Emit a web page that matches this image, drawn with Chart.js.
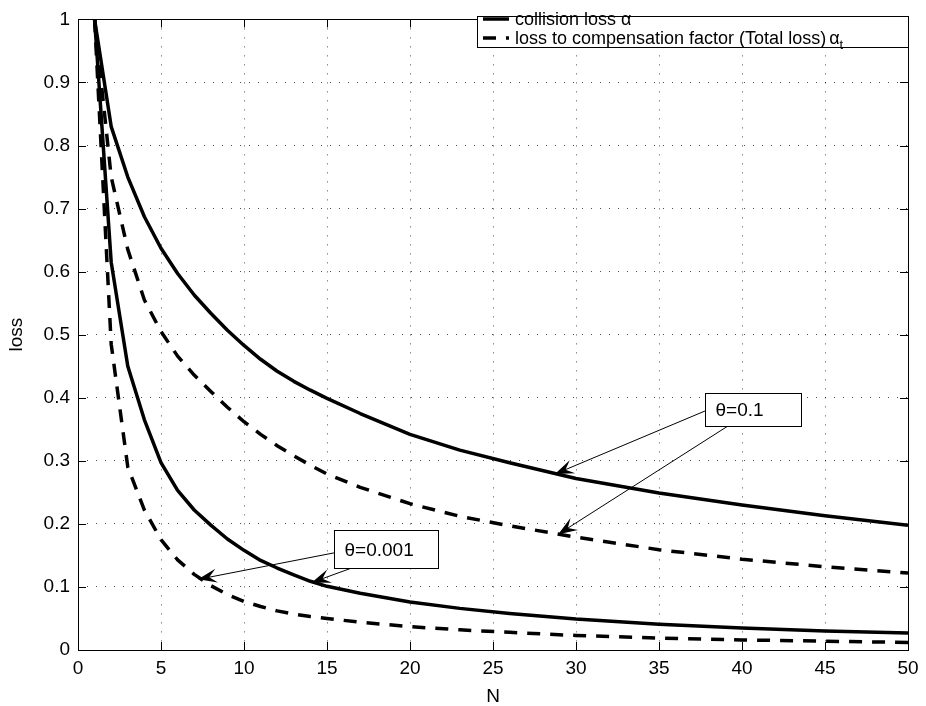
<!DOCTYPE html>
<html>
<head>
<meta charset="utf-8">
<script src="https://cdn.jsdelivr.net/npm/chart.js@4/dist/chart.umd.min.js"></script>
<style>
  html, body { margin: 0; padding: 0; background: #fff; }
</style>
</head>
<body>
<canvas id="lossChart" width="926" height="706"></canvas>
<script>
// values
const nValues = [1, 2, 3, 4, 5, 6, 7, 8, 9, 10, 11, 12, 13, 14, 15, 17, 20, 23, 26, 30, 35, 40, 45, 50];

// theta = 0.1
const collisionHigh = [1, 0.83, 0.75, 0.687, 0.637, 0.597, 0.563, 0.534, 0.507, 0.483, 0.461, 0.442, 0.426, 0.412, 0.399, 0.375, 0.342, 0.317, 0.297, 0.272, 0.249, 0.23, 0.213, 0.198];
const totalHigh = [1, 0.75, 0.635, 0.555, 0.505, 0.466, 0.436, 0.41, 0.385, 0.362, 0.342, 0.324, 0.308, 0.293, 0.279, 0.258, 0.232, 0.212, 0.197, 0.179, 0.159, 0.144, 0.132, 0.122];

// theta = 0.001
const collisionLow = [1, 0.615, 0.45, 0.365, 0.297, 0.253, 0.222, 0.198, 0.176, 0.158, 0.142, 0.13, 0.119, 0.109, 0.101, 0.09, 0.076, 0.066, 0.058, 0.049, 0.041, 0.035, 0.03, 0.027];
const totalLow = [1, 0.485, 0.29, 0.222, 0.175, 0.143, 0.12, 0.102, 0.088, 0.077, 0.069, 0.062, 0.057, 0.053, 0.05, 0.044, 0.037, 0.032, 0.028, 0.023, 0.019, 0.016, 0.014, 0.012];

const xTicksStep = 5;
const yTicksStep = 0.1;

const FONT = "'Liberation Sans', Arial, Helvetica, sans-serif";

function toPoints(ys) {
    return nValues.map((n, i) => ({ x: n, y: ys[i] }));
}

function lineSet(label, ys, dashed) {
    return {
        label: label,
        data: toPoints(ys),
        borderColor: '#000',
        borderWidth: 3.5,
        borderDash: dashed ? [13, 10] : [],
        borderJoinStyle: 'round',
        pointRadius: 0,
        tension: 0,
        fill: false
    };
}

// text boxes + arrows (data coordinates)
const notes = [
    {
        text: '\u03b8=0.1',
        box: [37.77, 0.407, 43.53, 0.356],
        arrows: [
            [37.77, 0.379, 28.73, 0.279],
            [39.2, 0.356, 28.93, 0.1836]
        ]
    },
    {
        text: '\u03b8=0.001',
        box: [15.42, 0.191, 21.69, 0.130],
        arrows: [
            [15.42, 0.154, 7.23, 0.112],
            [16.49, 0.130, 14.08, 0.107]
        ]
    }
];

function drawArrow(ctx, x1, y1, x2, y2) {
    ctx.save();
    ctx.strokeStyle = '#000';
    ctx.fillStyle = '#000';
    ctx.lineWidth = 1;
    const dx = x2 - x1, dy = y2 - y1;
    const len = Math.sqrt(dx * dx + dy * dy);
    const ux = dx / len, uy = dy / len;
    const nx = -uy, ny = ux;
    const L = 19, W = 7;
    ctx.beginPath();
    ctx.moveTo(x1, y1);
    ctx.lineTo(x2 - ux * L * 0.5, y2 - uy * L * 0.5);
    ctx.stroke();
    ctx.beginPath();
    ctx.moveTo(x2, y2);
    ctx.lineTo(x2 - ux * L + nx * W, y2 - uy * L + ny * W);
    ctx.lineTo(x2 - ux * L * 0.6, y2 - uy * L * 0.6);
    ctx.lineTo(x2 - ux * L - nx * W, y2 - uy * L - ny * W);
    ctx.closePath();
    ctx.fill();
    ctx.restore();
}

const matlabFrame = {
    id: 'matlabFrame',
    afterDraw(chart) {
        const ctx = chart.ctx;
        const area = chart.chartArea;
        const xs = chart.scales.x, ys = chart.scales.y;
        const tickLen = 8;

        ctx.save();
        // axes box
        ctx.strokeStyle = '#000';
        ctx.lineWidth = 1;
        ctx.strokeRect(Math.round(area.left) + 0.5, Math.round(area.top) + 0.5,
            Math.round(area.right - area.left), Math.round(area.bottom - area.top));

        // inward tick marks on all four sides
        ctx.beginPath();
        xs.ticks.forEach(t => {
            const px = Math.round(xs.getPixelForValue(t.value)) + 0.5;
            ctx.moveTo(px, area.bottom);
            ctx.lineTo(px, area.bottom - tickLen);
            ctx.moveTo(px, area.top);
            ctx.lineTo(px, area.top + tickLen);
        });
        ys.ticks.forEach(t => {
            const py = Math.round(ys.getPixelForValue(t.value)) + 0.5;
            ctx.moveTo(area.left, py);
            ctx.lineTo(area.left + tickLen, py);
            ctx.moveTo(area.right, py);
            ctx.lineTo(area.right - tickLen, py);
        });
        ctx.stroke();

        // annotations
        notes.forEach(note => {
            note.arrows.forEach(a => {
                drawArrow(ctx, xs.getPixelForValue(a[0]), ys.getPixelForValue(a[1]),
                    xs.getPixelForValue(a[2]), ys.getPixelForValue(a[3]));
            });
            const bx1 = Math.round(xs.getPixelForValue(note.box[0])) + 0.5;
            const by1 = Math.round(ys.getPixelForValue(note.box[1])) + 0.5;
            const bx2 = Math.round(xs.getPixelForValue(note.box[2])) + 0.5;
            const by2 = Math.round(ys.getPixelForValue(note.box[3])) + 0.5;
            ctx.fillStyle = '#fff';
            ctx.fillRect(bx1, by1, bx2 - bx1, by2 - by1);
            ctx.strokeStyle = '#000';
            ctx.lineWidth = 1;
            ctx.strokeRect(bx1, by1, bx2 - bx1, by2 - by1);
            ctx.fillStyle = '#000';
            ctx.font = '19px ' + FONT;
            ctx.textBaseline = 'middle';
            ctx.textAlign = 'left';
            ctx.fillText(note.text, bx1 + 10, (by1 + by2) / 2 + 1);
        });

        // legend box (top right, flush with the axes)
        const lx1 = 477.5, ly1 = Math.round(area.top) - 2.5, lx2 = Math.round(area.right) + 0.5, ly2 = 47.5;
        ctx.fillStyle = '#fff';
        ctx.fillRect(lx1, ly1, lx2 - lx1, ly2 - ly1);
        ctx.strokeStyle = '#000';
        ctx.lineWidth = 1;
        ctx.strokeRect(lx1, ly1, lx2 - lx1, ly2 - ly1);

        const rows = [19, 38];
        ctx.lineWidth = 3.5;
        ctx.beginPath();
        ctx.setLineDash([]);
        ctx.moveTo(483, rows[0]);
        ctx.lineTo(509, rows[0]);
        ctx.stroke();
        ctx.beginPath();
        ctx.setLineDash([13, 10]);
        ctx.lineDashOffset = 0;
        ctx.moveTo(483, rows[1]);
        ctx.lineTo(509, rows[1]);
        ctx.stroke();
        ctx.setLineDash([]);

        ctx.fillStyle = '#000';
        ctx.font = '18px ' + FONT;
        ctx.textAlign = 'left';
        ctx.textBaseline = 'middle';
        ctx.fillText('collision loss \u03b1', 515, rows[0] + 1);
        const t2 = 'loss to compensation factor (Total loss)';
        ctx.fillText(t2, 515, rows[1] + 1);
        const w2 = ctx.measureText(t2).width;
        ctx.fillText('\u03b1', 515 + w2 + 3, rows[1] + 1);
        const wa = ctx.measureText('\u03b1').width;
        ctx.font = '13px ' + FONT;
        ctx.fillText('t', 515 + w2 + 3 + wa, rows[1] + 7);
        ctx.restore();
    }
};

const ctx = document.getElementById('lossChart');
new Chart(ctx, {
    type: 'line',
    data: {
        datasets: [
            lineSet('collision loss \u03b1 (\u03b8=0.1)', collisionHigh, false),
            lineSet('total loss \u03b1t (\u03b8=0.1)', totalHigh, true),
            lineSet('collision loss \u03b1 (\u03b8=0.001)', collisionLow, false),
            lineSet('total loss \u03b1t (\u03b8=0.001)', totalLow, true)
        ]
    },
    options: {
        responsive: false,
        animation: false,
        devicePixelRatio: 1,
        layout: { padding: { left: 0, top: 11, right: 18, bottom: 0 } },
        plugins: {
            legend: { display: false },
            tooltip: { enabled: false }
        },
        scales: {
            x: {
                type: 'linear',
                min: 0,
                max: 50,
                afterFit: scale => { scale.height = 56; },
                ticks: {
                    stepSize: xTicksStep,
                    color: '#000',
                    padding: 7,
                    maxRotation: 0,
                    font: { family: FONT, size: 19 }
                },
                grid: {
                    color: 'rgba(0,0,0,0.7)',
                    lineWidth: 1,
                    drawTicks: false
                },
                border: { display: false, dash: [1, 8] },
                title: {
                    display: true,
                    text: 'N',
                    color: '#000',
                    font: { family: FONT, size: 19 },
                    padding: { top: 0, bottom: -2 }
                }
            },
            y: {
                min: 0,
                max: 1,
                afterFit: scale => { scale.width = 78; },
                ticks: {
                    stepSize: yTicksStep,
                    color: '#000',
                    padding: 8,
                    font: { family: FONT, size: 19 },
                    callback: v => (v === 0 || v === 1) ? String(v) : v.toFixed(1)
                },
                grid: {
                    color: 'rgba(0,0,0,0.7)',
                    lineWidth: 1,
                    drawTicks: false
                },
                border: { display: false, dash: [1, 8] },
                title: {
                    display: true,
                    text: 'loss',
                    color: '#000',
                    font: { family: FONT, size: 19 },
                    padding: { top: 5, bottom: 0 }
                }
            }
        }
    },
    plugins: [matlabFrame]
});
</script>
</body>
</html>
